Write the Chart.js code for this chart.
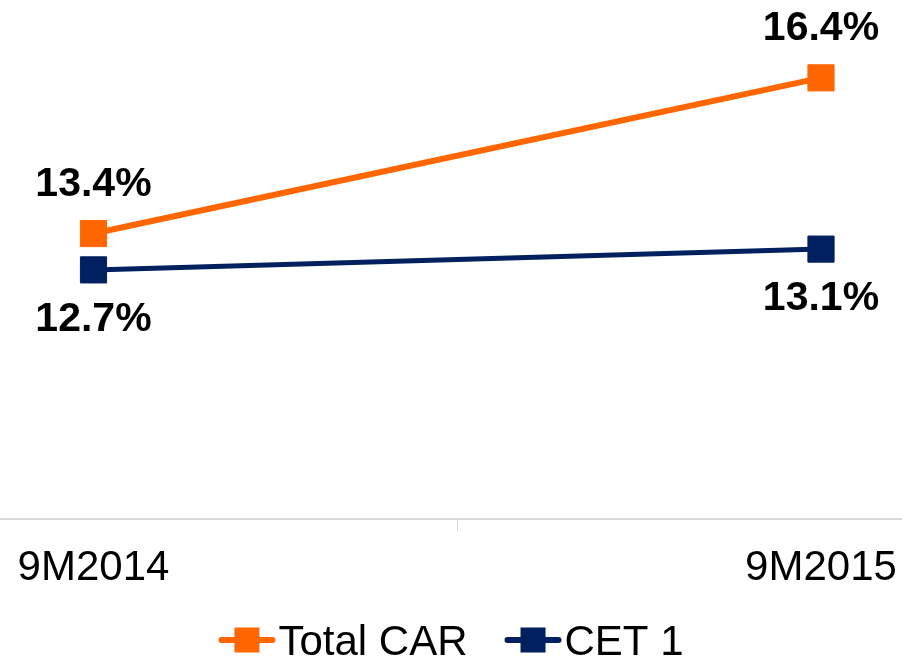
<!DOCTYPE html>
<html>
<head>
<meta charset="utf-8">
<title>Capital ratios</title>
<script src="https://cdn.jsdelivr.net/npm/chart.js@4/dist/chart.umd.min.js"></script>
<style>
  html, body { margin: 0; padding: 0; background: #fff; }
  .wrap { width: 902px; height: 659px; position: relative; }
</style>
</head>
<body>
<div class="wrap"><canvas id="carChart"></canvas></div>
<script>
// данные
const periods = ['9M2014', '9M2015'];
const totalCar = [13.4, 16.4];
const cet1 = [12.7, 13.1];

const seriesNames = ['Total CAR', 'CET 1'];
const seriesColors = ['#FF6600', '#002060'];
// где подпись: над точкой или под ней
const labelSide = [['up', 'up'], ['down', 'down']];

const FONT = '"Liberation Sans", Arial, Helvetica, sans-serif';

// подписи значений
const valueLabels = {
  id: 'valueLabels',
  afterDatasetsDraw(chart) {
    const ctx = chart.ctx;
    ctx.save();
    ctx.font = 'bold 41px ' + FONT;
    ctx.fillStyle = '#000';
    ctx.textAlign = 'center';
    ctx.textBaseline = 'middle';
    chart.data.datasets.forEach((ds, i) => {
      chart.getDatasetMeta(i).data.forEach((pt, j) => {
        const dy = labelSide[i][j] === 'up' ? -49 : 50;
        ctx.fillText(ds.data[j].toFixed(1) + '%', pt.x, pt.y + dy);
      });
    });
    ctx.restore();
  }
};

// линия оси на всю ширину и засечка между категориями
const axisLine = {
  id: 'axisLine',
  beforeDatasetsDraw(chart) {
    const ctx = chart.ctx;
    const y = chart.chartArea.bottom;
    const x = chart.scales.x;
    const mid = (x.getPixelForValue(0) + x.getPixelForValue(1)) / 2;
    ctx.save();
    ctx.strokeStyle = '#D9D9D9';
    ctx.lineWidth = 2;
    ctx.beginPath();
    ctx.moveTo(0, y);
    ctx.lineTo(chart.width, y);
    ctx.stroke();
    ctx.lineWidth = 1;
    ctx.beginPath();
    ctx.moveTo(Math.round(mid) + 0.5, y);
    ctx.lineTo(Math.round(mid) + 0.5, y + 12);
    ctx.stroke();
    ctx.restore();
  }
};

// легенда: линия с квадратом
const lineLegend = {
  id: 'lineLegend',
  afterDraw(chart) {
    const ctx = chart.ctx;
    const lineW = 57, sq = 25, gap = 3, between = 37;
    const y = 640;
    ctx.save();
    ctx.font = '42px ' + FONT;
    ctx.textBaseline = 'alphabetic';
    const items = chart.data.datasets.map(ds => ({
      text: ds.label, color: ds.borderColor, w: ctx.measureText(ds.label).width
    }));
    let total = 0;
    items.forEach((it, i) => { total += lineW + gap + it.w + (i ? between : 0); });
    let x = (chart.width - total) / 2;
    items.forEach(it => {
      ctx.strokeStyle = it.color;
      ctx.lineWidth = 6;
      ctx.lineCap = 'round';
      ctx.beginPath();
      ctx.moveTo(x + 3, y);
      ctx.lineTo(x + lineW - 3, y);
      ctx.stroke();
      ctx.fillStyle = it.color;
      ctx.fillRect(x + lineW / 2 - sq / 2, y - sq / 2, sq, sq);
      ctx.fillStyle = '#000';
      ctx.fillText(it.text, x + lineW + gap, 655);
      x += lineW + gap + it.w + between;
    });
    ctx.restore();
  }
};

const makeSet = (i, values, width) => ({
  label: seriesNames[i],
  data: values,
  borderColor: seriesColors[i],
  backgroundColor: seriesColors[i],
  borderWidth: width,
  pointStyle: 'rect',
  pointRadius: 18.5,
  pointHoverRadius: 18.5,
  pointBorderWidth: 1,
  pointBorderColor: seriesColors[i],
  pointBackgroundColor: seriesColors[i],
  tension: 0,
  clip: false
});

new Chart(document.getElementById('carChart'), {
  type: 'line',
  data: {
    labels: periods,
    datasets: [makeSet(0, totalCar, 6), makeSet(1, cet1, 5)]
  },
  options: {
    responsive: true,
    maintainAspectRatio: false,
    animation: false,
    devicePixelRatio: 1,
    layout: {
      autoPadding: false,
      padding: { left: 93.5, right: 81, top: 0, bottom: 61.6 }
    },
    plugins: {
      legend: { display: false },
      tooltip: { enabled: false }
    },
    scales: {
      x: {
        offset: false,
        // засечки не рисуются, но место под них остаётся
        grid: { display: false, drawTicks: true, tickLength: 20 },
        border: { display: false },
        ticks: {
          padding: 4,
          color: '#000',
          maxRotation: 0,
          font: { family: FONT, size: 42 }
        }
      },
      y: {
        display: false,
        min: 7.9,
        max: 17.9
      }
    }
  },
  plugins: [axisLine, valueLabels, lineLegend]
});
</script>
</body>
</html>
